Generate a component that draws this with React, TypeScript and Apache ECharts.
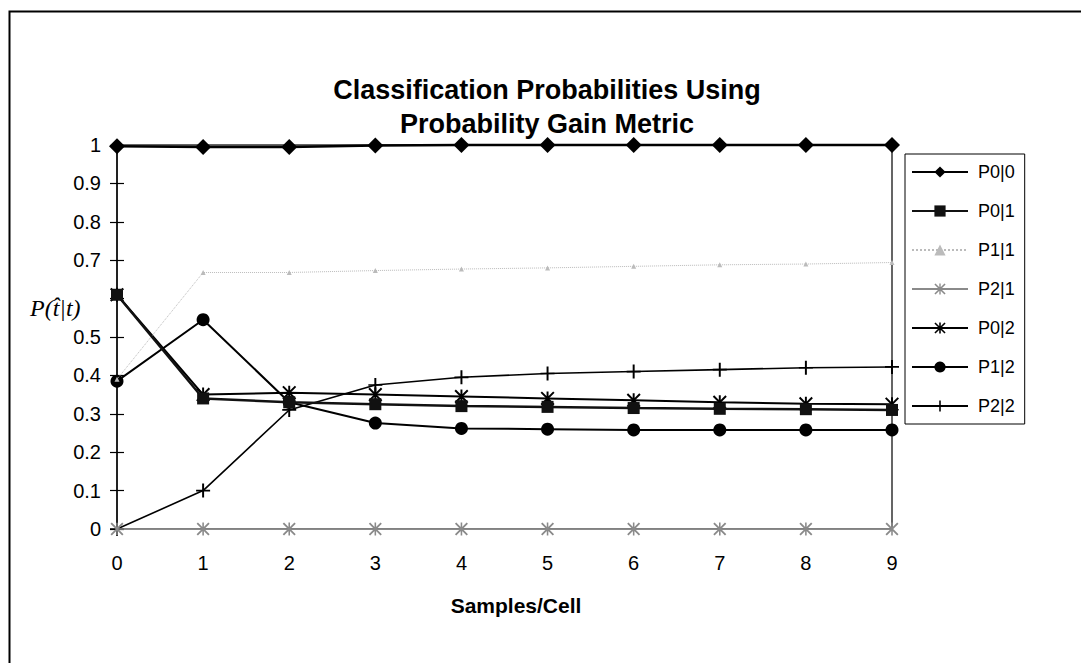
import React, { useEffect, useRef } from "react";
import * as echarts from "echarts";

const samples = [0, 1, 2, 3, 4, 5, 6, 7, 8, 9];
// 0.6 is hidden behind the axis title in the reference
const yTickLabels = ["0", "0.1", "0.2", "0.3", "0.4", "0.5", "", "0.7", "0.8", "0.9", "1"];

const p0g0 = [0.997, 0.995, 0.995, 0.999, 1, 1, 1, 1, 1, 1];
const p0g1 = [0.61, 0.34, 0.33, 0.325, 0.32, 0.318, 0.315, 0.313, 0.312, 0.31];
const p1g1 = [0.39, 0.668, 0.668, 0.673, 0.677, 0.68, 0.684, 0.688, 0.69, 0.694];
const p2g1 = [0, 0, 0, 0, 0, 0, 0, 0, 0, 0];
const p0g2 = [0.61, 0.35, 0.355, 0.35, 0.345, 0.34, 0.335, 0.33, 0.326, 0.325];
const p1g2 = [0.385, 0.545, 0.33, 0.276, 0.262, 0.26, 0.258, 0.258, 0.258, 0.258];
const p2g2 = [0, 0.1, 0.31, 0.375, 0.395, 0.405, 0.41, 0.415, 0.42, 0.422];

const seriesNames = ["P0|0", "P0|1", "P1|1", "P2|1", "P0|2", "P1|2", "P2|2"];

const titleText = "Classification Probabilities Using\nProbability Gain Metric";
const xAxisName = "Samples/Cell";
const yAxisName = "P(t\u0302|t)";

const STAR_PATH =
  "path://M0,1 L1,0 L10,9 L9,10 Z M9,0 L10,1 L1,10 L0,9 Z M4.3,0 L5.7,0 L5.7,10 L4.3,10 Z";
const GRAY_STAR_PATH =
  "path://M0,1 L1,0 L10,9 L9,10 Z M9,0 L10,1 L1,10 L0,9 Z M4.4,0 L5.6,0 L5.6,10 L4.4,10 Z";
const PLUS_PATH =
  "path://M4.3,0 L5.7,0 L5.7,10 L4.3,10 Z M0,4.4 L10,4.4 L10,5.6 L0,5.6 Z";

const pairs = (ys: number[]) => ys.map((y, i) => [samples[i], y]);

export default function App() {
  const ref = useRef<HTMLDivElement>(null);

  useEffect(() => {
    if (!ref.current) return;
    const chart = echarts.init(ref.current, null, { renderer: "svg" });

    const seriesDefs = [
      { data: p0g0, symbol: "diamond", size: 16, color: "#000", width: 2.5, type: "solid" },
      { data: p0g1, symbol: "rect", size: 12, color: "#111", width: 2.5, type: "solid" },
      { data: p1g1, symbol: "triangle", size: 5, color: "#bbb", width: 1, type: "dotted" },
      { data: p2g1, symbol: GRAY_STAR_PATH, size: 13, color: "#8a8a8a", width: 1.5, type: "solid" },
      { data: p0g2, symbol: STAR_PATH, size: 14, color: "#000", width: 2, type: "solid" },
      { data: p1g2, symbol: "circle", size: 13, color: "#000", width: 2, type: "solid" },
      { data: p2g2, symbol: PLUS_PATH, size: 14, color: "#000", width: 1.6, type: "solid" },
    ];

    const option: any = {
      animation: false,
      backgroundColor: "#fff",
      title: {
        text: titleText,
        left: 542,
        textAlign: "center",
        top: 68,
        textStyle: {
          fontFamily: "Liberation Sans, Arial, sans-serif",
          fontWeight: "bold",
          fontSize: 27,
          lineHeight: 34,
          color: "#000",
        },
      },
      legend: {
        orient: "vertical",
        left: 905,
        top: 154,
        padding: [9, 10, 9, 6],
        itemWidth: 56,
        itemHeight: 14,
        itemGap: 21,
        borderColor: "#000",
        borderWidth: 1,
        backgroundColor: "#fff",
        data: seriesNames,
        textStyle: {
          fontFamily: "Liberation Sans, Arial, sans-serif",
          fontSize: 18,
          color: "#000",
          padding: [0, 0, 0, 5],
        },
      },
      grid: {
        left: 117,
        right: 189,
        top: 145,
        bottom: 134,
        show: true,
        borderColor: "#333",
        borderWidth: 1.5,
        backgroundColor: "transparent",
      },
      xAxis: {
        type: "value",
        min: 0,
        max: 9,
        interval: 1,
        axisLine: { show: true, lineStyle: { color: "#888", width: 1 } },
        axisTick: { show: false },
        splitLine: { show: false },
        axisLabel: {
          margin: 24,
          fontFamily: "Liberation Sans, Arial, sans-serif",
          fontSize: 20,
          color: "#000",
        },
      },
      yAxis: [
        {
          type: "value",
          min: 0,
          max: 1,
          interval: 0.1,
          axisLine: { show: true, onZero: false, lineStyle: { color: "#222", width: 2 } },
          axisTick: { show: true, length: 7, lineStyle: { color: "#000", width: 1.2 } },
          splitLine: { show: false },
          axisLabel: {
            margin: 16,
            fontFamily: "Liberation Sans, Arial, sans-serif",
            fontSize: 20,
            color: "#000",
            formatter: (v: number) => {
              const idx = Math.round(v * 10);
              return yTickLabels[idx] ?? "";
            },
          },
        },
        {
          type: "value",
          min: 0,
          max: 1,
          interval: 0.1,
          position: "left",
          axisLine: { show: false },
          axisTick: { show: true, inside: true, length: 7, lineStyle: { color: "#000", width: 1.2 } },
          splitLine: { show: false },
          axisLabel: { show: false },
        },
      ],
      graphic: [
        {
          type: "rect",
          left: 7,
          top: 9,
          shape: { x: 0, y: 0, width: 1100, height: 700 },
          style: { fill: "none", stroke: "#000", lineWidth: 2 },
          silent: true,
          z: -10,
        },
        {
          type: "text",
          left: 30,
          top: 296,
          style: {
            text: yAxisName,
            font: "italic 24px 'Liberation Serif', 'Times New Roman', serif",
            fill: "#000",
          },
        },
        {
          type: "text",
          x: 516,
          y: 605,
          style: {
            text: xAxisName,
            align: "center",
            verticalAlign: "middle",
            textAlign: "center",
            textVerticalAlign: "middle",
            font: "bold 21px 'Liberation Sans', Arial, sans-serif",
            fill: "#000",
          },
        },
      ],
      series: seriesDefs.map((d, i) => ({
        name: seriesNames[i],
        type: "line",
        data: pairs(d.data),
        symbol: d.symbol,
        symbolSize: d.size,
        showSymbol: true,
        clip: false,
        color: d.color,
        itemStyle: { color: d.color },
        lineStyle: { color: d.color, width: d.width, type: d.type },
        z: 10 - i,
      })),
    };

    chart.setOption(option);
    return () => chart.dispose();
  }, []);

  return (
    <div
      ref={ref}
      style={{ position: "absolute", left: 0, top: 0, width: 1081, height: 663 }}
    />
  );
}
